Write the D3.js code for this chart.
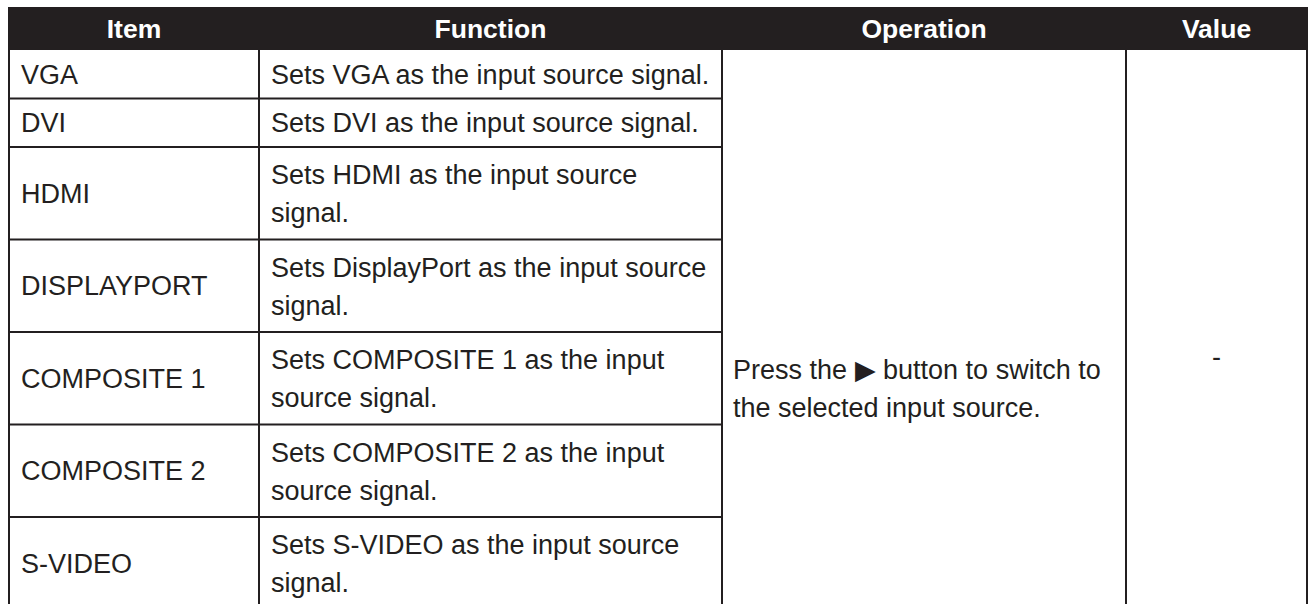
<!DOCTYPE html>
<html>
<head>
<meta charset="utf-8">
<script src="https://cdn.jsdelivr.net/npm/d3@7"></script>
<style>
  html, body { margin: 0; padding: 0; background: #fff; overflow: hidden; }
  svg { display: block; }
  text { font-family: "Liberation Sans", Arial, Helvetica, sans-serif; }
</style>
</head>
<body>
<svg id="chart" width="1309" height="604"></svg>
<script>
// ---- data ----
const headers = ["Item", "Function", "Operation", "Value"];
const items = ["VGA", "DVI", "HDMI", "DISPLAYPORT", "COMPOSITE 1", "COMPOSITE 2", "S-VIDEO"];
const functions = [
  ["Sets VGA as the input source signal."],
  ["Sets DVI as the input source signal."],
  ["Sets HDMI as the input source", "signal."],
  ["Sets DisplayPort as the input source", "signal."],
  ["Sets COMPOSITE 1 as the input", "source signal."],
  ["Sets COMPOSITE 2 as the input", "source signal."],
  ["Sets S-VIDEO as the input source", "signal."]
];
const operation = ["Press the \u25B6 button to switch to", "the selected input source."];
const valueText = "-";

// ---- layout ----
const W = 1309, H = 604;
const colEdges = [9, 259, 722, 1126, 1307];
const headerTop = 7, headerBottom = 50;
const ink = "#231f20";
const headFont = 26.5;
const fontSize = 27;
const lineGap = 38;

const svg = d3.select("#chart");

// row heights via a linear scale over line counts
const lineCounts = functions.map(f => f.length);
const rowH = d3.scaleLinear().domain([1, 2]).range([48.5, 92.5]);
const rowTops = [];
let acc = headerBottom;
lineCounts.forEach(n => { rowTops.push(acc); acc += rowH(n); });
const tableBottom = acc;

const x = d3.scaleOrdinal().domain(headers).range(colEdges.slice(0, 4));
const xEnd = d3.scaleOrdinal().domain(headers).range(colEdges.slice(1));

// header
svg.append("rect")
  .attr("x", colEdges[0] - 1).attr("y", headerTop)
  .attr("width", colEdges[4] - colEdges[0] + 2).attr("height", headerBottom - headerTop)
  .attr("fill", ink);

svg.selectAll("text.hdr").data(headers).join("text")
  .attr("class", "hdr")
  .attr("x", d => (x(d) + xEnd(d)) / 2)
  .attr("y", (headerTop + headerBottom) / 2 + 9.5)
  .attr("text-anchor", "middle")
  .attr("fill", "#fff")
  .attr("font-weight", "bold")
  .attr("font-size", headFont)
  .text(d => d);

// grid lines
const g = svg.append("g").attr("stroke", ink).attr("stroke-width", 2).attr("fill", "none");
rowTops.slice(1).forEach(t => {
  g.append("line").attr("x1", colEdges[0]).attr("x2", colEdges[2]).attr("y1", t).attr("y2", t);
});
g.append("line").attr("x1", colEdges[0]).attr("x2", colEdges[4]).attr("y1", tableBottom).attr("y2", tableBottom);
colEdges.forEach(cx => {
  g.append("line").attr("x1", cx).attr("x2", cx).attr("y1", headerBottom).attr("y2", tableBottom);
});

// rows
const rows = svg.selectAll("g.row").data(items.map((d, i) => ({ item: d, fn: functions[i], top: rowTops[i], h: rowH(lineCounts[i]) })))
  .join("g").attr("class", "row");

rows.append("text")
  .attr("x", colEdges[0] + 12)
  .attr("y", d => d.top + d.h / 2 + 9.5)
  .attr("fill", ink).attr("font-size", fontSize)
  .text(d => d.item);

rows.each(function(d) {
  const n = d.fn.length;
  const mid = d.top + d.h / 2;
  const start = n === 1 ? mid + 9.5 : mid - 9;
  d3.select(this).selectAll("text.fn").data(d.fn).join("text")
    .attr("class", "fn")
    .attr("x", colEdges[1] + 12)
    .attr("y", (t, i) => start + i * lineGap)
    .attr("fill", ink).attr("font-size", fontSize)
    .text(t => t);
});

// operation (merged cell)
const opTop = 379;
svg.selectAll("text.op").data(operation).join("text")
  .attr("class", "op")
  .attr("x", colEdges[2] + 11)
  .attr("y", (t, i) => opTop + i * lineGap)
  .attr("fill", ink).attr("font-size", fontSize)
  .text(t => t);

svg.append("text")
  .attr("x", (colEdges[3] + colEdges[4]) / 2)
  .attr("y", 366)
  .attr("text-anchor", "middle")
  .attr("fill", ink).attr("font-size", fontSize)
  .text(valueText);
</script>
</body>
</html>
